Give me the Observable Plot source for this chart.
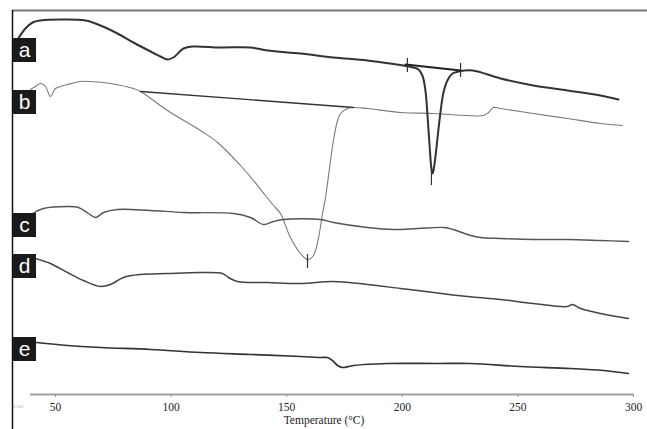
<!DOCTYPE html>
<html>
<head>
<meta charset="utf-8">
<script src="https://cdn.jsdelivr.net/npm/d3@7"></script>
<script src="https://cdn.jsdelivr.net/npm/@observablehq/plot@0.6"></script>
<style>
  html, body { margin: 0; padding: 0; background: #fff; }
  #chart { width: 647px; height: 429px; overflow: hidden; }
</style>
</head>
<body>
<div id="chart"></div>
<script>
// DSC thermograms: temperature (°C) vs heat flow (arbitrary units, offset per trace)
const curveA = [[33.6,355],[37.0,366],[40.1,372],[43.5,374],[52.2,375],[63.0,374],[69.5,369],[76.8,361],[83.7,352],[91.1,343],[95.4,338],[98.4,335],[101.0,337],[105.4,346],[109.3,348],[121.4,347],[134.3,347],[141.7,344],[156.0,341],[170.2,337],[184.9,334],[200.5,329],[204.8,327],[207.0,325],[208.7,319],[210.0,304],[210.9,279],[211.8,249],[212.6,226],[213.1,221],[213.5,224],[214.4,239],[215.2,256],[216.5,282],[217.8,302],[219.5,314],[221.7,321],[224.3,323],[230.4,324],[242.5,316],[256.7,309],[271.4,304],[285.7,299],[293.5,295]];
const curveB = [[39.2,305],[41.3,308],[43.5,311],[45.7,308],[47.8,298],[50.0,306],[52.2,308],[55.2,310],[60.8,313],[65.1,313],[73.8,311],[83.7,306],[86.8,303],[98.4,284],[112.7,264],[120.1,252],[130.0,229],[135.6,214],[140.8,199],[144.3,189],[147.3,181],[151.6,157],[156.0,141],[159.0,135],[161.6,139],[163.7,156],[165.5,181],[166.8,197],[168.1,219],[170.2,254],[172.0,274],[173.3,281],[176.3,286],[178.9,287],[184.9,286],[199.2,282],[213.5,281],[228.2,279],[235.1,279],[237.3,282],[239.4,287],[242.5,286],[256.7,281],[271.4,276],[285.7,271],[295.2,269]];
const curveC = [[40.1,181],[44.8,186],[55.2,188],[59.9,187],[64.3,181],[67.3,177],[70.8,182],[76.8,185],[91.1,184],[105.4,182],[127.0,181],[134.3,177],[140.0,170],[144.3,173],[148.6,175],[164.6,175],[170.2,172],[184.9,167],[196.2,165],[206.6,166],[217.8,167],[222.1,165],[228.2,160],[233.8,157],[242.5,156],[256.7,155],[271.4,155],[285.7,154],[297.8,153]];
const curveD = [[41.3,136],[47.8,131],[55.2,122],[62.1,114],[69.5,108],[73.8,110],[79.4,117],[86.8,120],[98.4,121],[112.7,122],[122.2,121],[124.8,117],[128.7,113],[141.7,112],[156.0,111],[170.2,113],[184.9,110],[199.2,106],[213.5,102],[228.2,98],[242.5,95],[256.7,91],[271.4,88],[273.6,90],[277.1,86],[285.7,81],[297.8,76]];
const curveE = [[41.8,52],[55.2,49],[69.5,47],[91.1,45],[112.7,42],[134.3,40],[156.0,38],[164.6,37],[167.6,37],[169.8,34],[172.0,29],[174.1,27],[178.9,29],[193.6,31],[215.2,31],[229.5,31],[251.1,28],[272.7,26],[287.0,24],[297.8,21]];
// integration baselines and peak markers
const baselineA = [[201.4,330],[225.2,324]];
const baselineB = [[86.8,303],[178.9,287]];
const markers = [
  {x: 202.2, y1: 336, y2: 322},
  {x: 225.2, y1: 331, y2: 317},
  {x: 212.6, y1: 229, y2: 209},
  {x: 159.0, y1: 140, y2: 126}
];
const traceLabels = [
  {label: "a", y: 344},
  {label: "b", y: 292},
  {label: "c", y: 169},
  {label: "d", y: 128},
  {label: "e", y: 45}
];
const xTicks = [50, 100, 150, 200, 250, 300];
const xLabel = "Temperature (°C)";

const toRows = (arr) => arr.map(([t, h]) => ({t, h}));

const plot = Plot.plot({
  width: 647,
  height: 429,
  marginTop: 0,
  marginRight: 0,
  marginLeft: 0,
  marginBottom: 35,
  style: {background: "#fff", overflow: "visible"},
  x: {domain: [50, 300], range: [55, 633]},
  y: {domain: [0, 394], range: [394, 0], axis: null},
  marks: [
    Plot.ruleY([0], {x1: 39.2, x2: 300, stroke: "#a0a0a0", strokeWidth: 2}),
    Plot.axisX({ticks: xTicks, tickSize: 3, tickPadding: 5, fontSize: 11.5, fontFamily: "Liberation Serif, DejaVu Serif, serif",
      label: xLabel, labelAnchor: "center", labelArrow: "none", labelOffset: 29, color: "#222", stroke: "#999"}),
    Plot.line(toRows(curveB), {x: "t", y: "h", stroke: "#7a7a7a", strokeWidth: 1.1, curve: "catmull-rom"}),
    Plot.line(toRows(baselineB), {x: "t", y: "h", stroke: "#333", strokeWidth: 1.3}),
    Plot.line(toRows(curveC), {x: "t", y: "h", stroke: "#555", strokeWidth: 1.4, curve: "catmull-rom"}),
    Plot.line(toRows(curveD), {x: "t", y: "h", stroke: "#444", strokeWidth: 1.5, curve: "catmull-rom"}),
    Plot.line(toRows(curveE), {x: "t", y: "h", stroke: "#333", strokeWidth: 1.7, curve: "catmull-rom"}),
    Plot.line(toRows(curveA), {x: "t", y: "h", stroke: "#333", strokeWidth: 2, curve: "catmull-rom"}),
    Plot.line(toRows(baselineA), {x: "t", y: "h", stroke: "#222", strokeWidth: 2}),
    Plot.ruleX(markers, {x: "x", y1: "y1", y2: "y2", stroke: "#333", strokeWidth: 1.2})
  ]
});

const svg = d3.select(plot);
// figure frame: top and left borders
svg.append("line").attr("x1", 12).attr("x2", 647).attr("y1", 10.5).attr("y2", 10.5).attr("stroke", "#777").attr("stroke-width", 2);
svg.append("line").attr("x1", 12.5).attr("x2", 12.5).attr("y1", 10).attr("y2", 429).attr("stroke", "#111").attr("stroke-width", 1.5);
// small instrument note
svg.append("text").attr("x", 18).attr("y", 408).attr("font-size", 5).attr("fill", "#999")
  .attr("font-family", "Liberation Serif, serif").text("37.61");
// trace label boxes
const yScale = plot.scale("y");
const g = svg.append("g");
traceLabels.forEach(d => {
  const cy = yScale.apply(d.y);
  g.append("rect").attr("x", 13).attr("y", cy - 12).attr("width", 23).attr("height", 24).attr("fill", "#1a1a1a");
  g.append("text").attr("x", 24.5).attr("y", cy + 7).attr("text-anchor", "middle").attr("fill", "#fff")
    .attr("font-size", 21).attr("font-family", "Liberation Sans, Arial, sans-serif").text(d.label);
});

document.getElementById("chart").appendChild(plot);
</script>
</body>
</html>
